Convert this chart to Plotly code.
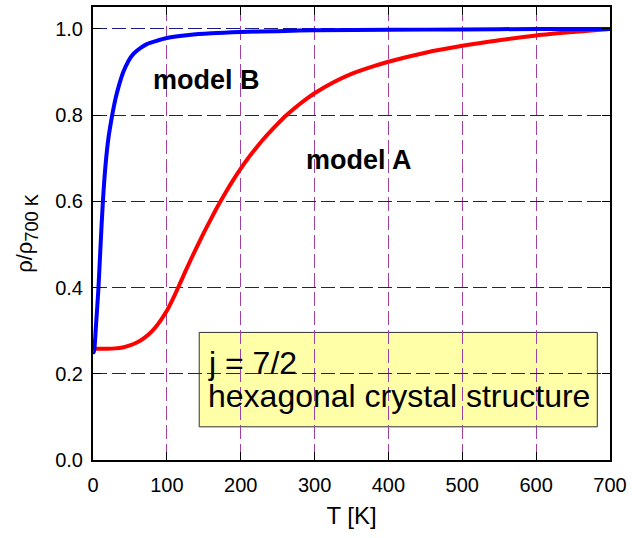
import plotly.graph_objects as go

# Temperature grid and normalised resistivity for the two models
T_model_a = [0, 10, 20, 30, 40, 50, 60, 70, 80, 90, 100, 110, 120, 130, 140, 150, 160,
             170, 180, 190, 200, 210, 220, 230, 240, 250, 260, 270, 280, 290, 300,
             325, 350, 375, 400, 450, 500, 550, 600, 650, 700]
rho_model_a = [0.258, 0.258, 0.258, 0.259, 0.261, 0.266, 0.273, 0.284, 0.299, 0.320,
               0.346, 0.380, 0.418, 0.456, 0.492, 0.527, 0.560, 0.592, 0.622, 0.650,
               0.676, 0.700, 0.722, 0.743, 0.762, 0.780, 0.797, 0.812, 0.826, 0.839,
               0.851, 0.876, 0.896, 0.911, 0.924, 0.945, 0.961, 0.974, 0.985, 0.993, 1.000]

T_model_b = [0, 1, 2, 4, 7.4, 10, 13.4, 17, 21, 26, 28, 31, 34.5, 41, 48, 55, 65, 73,
             85, 100, 130, 160, 200, 250, 300, 400, 500, 600, 700]
rho_model_b = [0.25, 0.25, 0.26, 0.31, 0.40, 0.49, 0.60, 0.685, 0.748, 0.80, 0.818, 0.842,
               0.865, 0.900, 0.926, 0.943, 0.957, 0.965, 0.972, 0.979, 0.986, 0.990,
               0.993, 0.995, 0.997, 0.998, 0.999, 1.0, 1.0]

x_ticks = [0, 100, 200, 300, 400, 500, 600, 700]
y_ticks = [0.0, 0.2, 0.4, 0.6, 0.8, 1.0]
y_tick_text = ["0.0", "0.2", "0.4", "0.6", "0.8", "1.0"]

FONT = "Liberation Sans, Arial, sans-serif"

fig = go.Figure()
fig.add_trace(go.Scatter(x=T_model_a, y=rho_model_a, mode="lines",
                         line=dict(color="#ff0000", width=4, shape="spline", smoothing=0.8),
                         showlegend=False, name="model A"))
fig.add_trace(go.Scatter(x=T_model_b, y=rho_model_b, mode="lines",
                         line=dict(color="#0000ff", width=4, shape="spline", smoothing=0.8),
                         showlegend=False, name="model B"))

# info box
fig.add_shape(type="rect", xref="x", yref="y", x0=143.8, x1=682.8, y0=0.077, y1=0.296,
              fillcolor="#ffffa8", line=dict(color="#303030", width=1), layer="below")

fig.add_annotation(x=153.0, y=0.224, xref="x", yref="y", text="j = 7/2", showarrow=False,
                   xanchor="left", yanchor="middle", font=dict(family=FONT, size=32, color="black"))
fig.add_annotation(x=153.0, y=0.148, xref="x", yref="y", text="hexagonal crystal structure",
                   showarrow=False, xanchor="left", yanchor="middle",
                   font=dict(family=FONT, size=32, color="black"))
fig.add_annotation(x=153, y=0.882, xref="x", yref="y", text="<b>model B</b>", showarrow=False,
                   xanchor="center", yanchor="middle", font=dict(family=FONT, size=27, color="black"))
fig.add_annotation(x=360.7, y=0.697, xref="x", yref="y", text="<b>model A</b>", showarrow=False,
                   xanchor="center", yanchor="middle", font=dict(family=FONT, size=27, color="black"))

fig.update_xaxes(range=[0, 700], tickvals=x_ticks, ticks="inside", ticklen=8, tickcolor="black",
                 showline=True, linecolor="black", linewidth=2, mirror="ticks",
                 showgrid=True, gridcolor="#a040a0", gridwidth=1, griddash="14px,5px",
                 zeroline=False, tickfont=dict(family=FONT, size=20, color="black"),
                 title=dict(text="T [K]", font=dict(family=FONT, size=24, color="black"), standoff=12),
                 ticklabelstandoff=6)
fig.update_yaxes(range=[0, 1.051], tickvals=y_ticks, ticktext=y_tick_text, ticks="inside",
                 ticklen=8, tickcolor="black",
                 showline=True, linecolor="black", linewidth=2, mirror="ticks",
                 showgrid=True, gridcolor="#1a1a8c", gridwidth=1, griddash="14px,5px",
                 zeroline=False, tickfont=dict(family=FONT, size=20, color="black"),
                 title=dict(text="ρ/ρ<span style='font-size:26px'><sub>700 K</sub></span>",
                            font=dict(family=FONT, size=22, color="black"), standoff=16),
                 ticklabelstandoff=4)

fig.update_layout(width=632, height=538, margin=dict(l=93, r=20, t=5, b=78),
                  plot_bgcolor="white", paper_bgcolor="white")

fig.write_html("out.html")
